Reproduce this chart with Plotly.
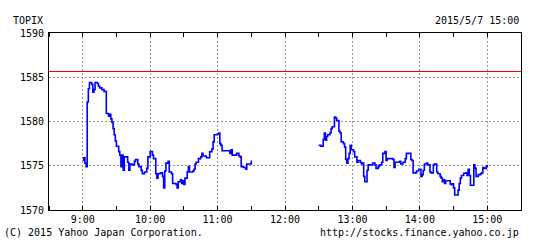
import plotly.graph_objects as go

DATE = "2015-05-07"
am_times = ["09:00","09:01","09:02","09:03","09:04","09:05","09:06","09:08","09:09","09:10","09:11","09:13","09:14","09:15","09:17","09:19","09:21","09:23","09:24","09:25","09:26","09:27","09:28","09:29","09:30","09:32","09:33","09:34","09:35","09:36","09:37","09:39","09:40","09:41","09:42","09:44","09:46","09:47","09:49","09:50","09:52","09:53","09:55","09:57","09:58","10:00","10:02","10:03","10:05","10:06","10:07","10:09","10:11","10:12","10:13","10:14","10:16","10:17","10:19","10:20","10:23","10:24","10:25","10:27","10:28","10:29","10:30","10:31","10:33","10:34","10:35","10:38","10:39","10:40","10:41","10:43","10:45","10:46","10:47","10:50","10:52","10:53","10:55","10:56","10:57","11:00","11:01","11:02","11:03","11:04","11:10","11:11","11:12","11:13","11:17","11:19","11:20","11:21","11:23","11:25","11:26","11:29","11:30"]
am_values = [1575.6,1575.9,1575.3,1574.9,1582.2,1583.7,1584.4,1584.2,1583.3,1583.6,1584.4,1584.3,1584.0,1583.8,1583.6,1583.4,1580.9,1580.6,1580.8,1580.3,1579.9,1579.2,1578.5,1577.8,1577.2,1576.6,1576.2,1574.9,1576.2,1574.5,1576.0,1576.0,1575.4,1574.5,1575.2,1575.1,1575.5,1575.7,1575.2,1574.9,1574.5,1574.1,1574.3,1574.7,1576.0,1576.6,1576.2,1575.8,1574.1,1573.6,1574.1,1574.2,1573.8,1572.5,1574.4,1575.3,1575.5,1574.3,1574.1,1573.0,1572.9,1572.5,1573.2,1573.4,1573.0,1573.3,1572.9,1573.6,1574.3,1574.9,1574.3,1574.4,1574.6,1575.2,1575.4,1575.8,1576.0,1576.4,1576.1,1575.9,1575.9,1576.6,1576.9,1577.7,1578.5,1578.6,1578.7,1577.5,1577.3,1576.7,1576.7,1576.4,1576.8,1576.2,1576.4,1576.1,1576.0,1574.9,1574.8,1574.6,1575.2,1575.2,1575.6]

pm_times = ["12:30","12:32","12:34","12:35","12:36","12:37","12:38","12:40","12:41","12:42","12:44","12:45","12:46","12:48","12:49","12:50","12:52","12:53","12:54","12:55","12:56","12:57","12:58","12:59","13:01","13:02","13:04","13:05","13:07","13:08","13:09","13:10","13:11","13:13","13:14","13:18","13:20","13:21","13:23","13:24","13:26","13:27","13:29","13:30","13:31","13:35","13:36","13:37","13:38","13:42","13:43","13:45","13:47","13:48","13:51","13:52","13:53","13:54","13:57","13:59","14:01","14:02","14:03","14:04","14:06","14:07","14:09","14:10","14:12","14:13","14:15","14:16","14:18","14:19","14:20","14:21","14:22","14:23","14:26","14:27","14:28","14:29","14:30","14:31","14:33","14:34","14:35","14:36","14:37","14:39","14:41","14:42","14:43","14:44","14:45","14:47","14:48","14:49","14:50","14:52","14:54","14:55","14:56","14:57","14:59","15:00"]
pm_values = [1577.3,1577.2,1578.0,1578.7,1577.9,1578.3,1578.5,1578.7,1579.2,1579.4,1580.5,1580.4,1580.1,1578.9,1578.7,1577.7,1577.5,1577.1,1575.7,1575.3,1575.8,1576.4,1577.3,1576.8,1576.6,1576.0,1575.4,1575.6,1575.4,1575.2,1575.3,1573.8,1573.2,1574.5,1575.1,1575.3,1575.1,1574.7,1574.9,1575.1,1575.4,1576.4,1576.6,1575.6,1575.8,1575.8,1575.7,1574.8,1575.4,1575.5,1575.2,1575.4,1575.8,1576.4,1576.4,1575.7,1575.6,1574.2,1574.4,1574.6,1573.8,1574.0,1574.5,1575.2,1575.3,1575.1,1574.3,1574.2,1575.1,1575.2,1574.3,1574.1,1573.8,1573.6,1573.2,1573.4,1573.0,1573.3,1573.3,1572.95,1572.85,1572.95,1572.5,1571.7,1571.7,1572.25,1573.0,1573.6,1573.9,1574.15,1574.2,1573.9,1574.6,1573.9,1572.8,1572.8,1575.1,1574.7,1573.8,1574.0,1574.1,1574.2,1574.8,1574.7,1574.9,1575.1]

prev_close = 1585.65
y_ticks = [1570, 1575, 1580, 1585, 1590]
x_tick_hours = ["09:00","10:00","11:00","12:00","13:00","14:00","15:00"]

FONT = "DejaVu Sans Mono"

def ts(t):
    return f"{DATE} {t}"

fig = go.Figure()
for times, vals in [(am_times, am_values), (pm_times, pm_values)]:
    fig.add_trace(go.Scatter(
        x=[ts(t) for t in times], y=vals, mode="lines",
        line=dict(color="#0000ff", width=1.6, shape="hv"),
        showlegend=False, hoverinfo="skip"))

fig.add_shape(type="line", xref="paper", x0=0, x1=1, yref="y",
              y0=prev_close, y1=prev_close, line=dict(color="#ff0000", width=1))

fig.update_layout(
    width=546, height=243,
    margin=dict(l=49, r=25, t=33, b=33),
    paper_bgcolor="white", plot_bgcolor="white",
    font=dict(family=FONT, size=10, color="black"),
    xaxis=dict(
        type="date",
        range=[ts("08:30"), ts("15:30")],
        tickvals=[ts(t) for t in x_tick_hours],
        ticktext=[t.lstrip("0") for t in x_tick_hours],
        ticks="", showgrid=True, gridcolor="#999999", griddash="2px,2px", gridwidth=1,
        showline=True, linecolor="black", linewidth=1, mirror="ticks",
        zeroline=False,
        minor=dict(dtick=1800000, tick0=ts("08:30"), ticks="inside", ticklen=4,
                   tickcolor="black", showgrid=False),
        tickfont=dict(family=FONT, size=10),
    ),
    yaxis=dict(
        range=[1570, 1590],
        tickvals=y_ticks,
        ticks="", showgrid=True, gridcolor="#999999", griddash="2px,2px", gridwidth=1,
        showline=True, linecolor="black", linewidth=1, mirror=True,
        zeroline=False, ticklabelstandoff=2,
        tickfont=dict(family=FONT, size=10),
    ),
    annotations=[
        dict(text="TOPIX", xref="paper", yref="paper", x=0, y=1, xanchor="right",
             yanchor="middle", xshift=-4, yshift=13, showarrow=False),
        dict(text="2015/5/7 15:00", xref="paper", yref="paper", x=1, y=1, xanchor="right",
             yanchor="middle", yshift=13, showarrow=False),
        dict(text="(C) 2015 Yahoo Japan Corporation.", xref="paper", yref="paper", x=0, y=0,
             xanchor="left", yanchor="middle", xshift=-47, yshift=-22, showarrow=False),
        dict(text="http://stocks.finance.yahoo.co.jp", xref="paper", yref="paper", x=1, y=0,
             xanchor="right", yanchor="middle", yshift=-22, showarrow=False),
    ],
)

fig.write_html("out.html")
